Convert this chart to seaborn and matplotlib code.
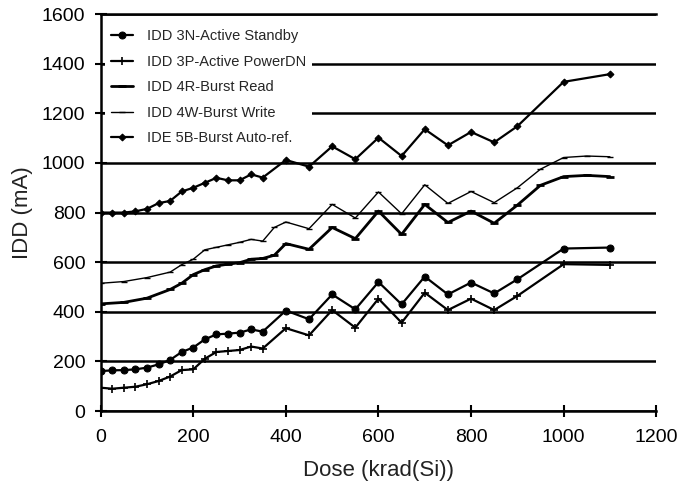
import pandas as pd
import seaborn as sns
import matplotlib.pyplot as plt

# data
dose_fine = [0, 25, 50, 75, 100, 125, 150, 175, 200, 225, 250, 275, 300, 325, 350,
             400, 450, 500, 550, 600, 650, 700, 750, 800, 850, 900, 1000, 1100]
dose_mid = [0, 50, 100, 150, 175, 200, 225, 250, 275, 300, 325, 350, 375,
            400, 450, 500, 550, 600, 650, 700, 750, 800, 850, 900, 950, 1000, 1050, 1100]

idd_3n = [161, 164, 165, 168, 175, 188, 206, 238, 256, 289, 309, 312, 316, 329, 320,
          405, 370, 470, 410, 520, 430, 542, 470, 518, 474, 531, 655, 659]
idd_3p = [94, 90, 94, 98, 108, 121, 139, 165, 168, 211, 238, 242, 246, 260, 252,
          334, 305, 407, 336, 453, 356, 477, 407, 453, 407, 464, 592, 589]
idd_4r = [432, 438, 455, 490, 515, 550, 570, 585, 592, 598, 612, 615, 628,
          675, 652, 740, 695, 806, 712, 833, 760, 806, 757, 830, 910, 945, 950, 945]
idd_4w = [515, 522, 538, 560, 590, 612, 650, 660, 670, 680, 692, 685, 740,
          762, 735, 833, 778, 883, 795, 912, 837, 885, 840, 900, 975, 1022, 1028, 1025]
ide_5b = [800, 800, 800, 805, 815, 838, 847, 885, 900, 920, 940, 930, 930, 954, 941,
          1012, 985, 1067, 1015, 1102, 1028, 1136, 1071, 1125, 1083, 1148, 1327, 1358]

labels = ["IDD 3N-Active Standby", "IDD 3P-Active PowerDN", "IDD 4R-Burst Read",
          "IDD 4W-Burst Write", "IDE 5B-Burst Auto-ref."]

sns.set_style("ticks")
plt.rcParams['font.family'] = ['Liberation Sans', 'DejaVu Sans']

fig = plt.figure(figsize=(6.85, 4.87), dpi=100)
ax = fig.add_axes([0.147, 0.156, 0.811, 0.815])

series = [
    (dose_fine, idd_3n, dict(marker='o', markersize=5, linewidth=1.6)),
    (dose_fine, idd_3p, dict(marker='+', markersize=6, markeredgewidth=1.2, linewidth=1.6)),
    (dose_mid, idd_4r, dict(marker='_', markersize=6, markeredgewidth=2, linewidth=2.0)),
    (dose_mid, idd_4w, dict(marker='_', markersize=5, markeredgewidth=1, linewidth=1.0)),
    (dose_fine, ide_5b, dict(marker='D', markersize=3.5, linewidth=1.6)),
]
for (x, y, style), lab in zip(series, labels):
    df = pd.DataFrame({'Dose': x, 'IDD': y})
    sns.lineplot(data=df, x='Dose', y='IDD', ax=ax, color='black', label=lab,
                 markeredgecolor='black', solid_joinstyle='round', **style)

ax.set_xlim(0, 1200)
ax.set_ylim(0, 1600)
ax.set_xticks(range(0, 1201, 200))
ax.set_yticks(range(0, 1601, 200))
ax.yaxis.grid(True, color='black', linewidth=1.8)
ax.set_axisbelow(True)

for s in ['left', 'bottom', 'top']:
    ax.spines[s].set_color('black')
    ax.spines[s].set_linewidth(1.8)
ax.spines['right'].set_visible(False)
ax.tick_params(axis='both', direction='inout', length=8, width=1.5,
               colors='black', labelsize=14, pad=7)
ax.tick_params(axis='x', pad=9)

ax.set_xlabel("Dose (krad(Si))", fontsize=16, color='#222222', labelpad=10)
ax.set_ylabel("IDD (mA)", fontsize=16, color='#222222', labelpad=6)

leg = ax.legend(loc='upper left', frameon=True, fontsize=10.5, handlelength=1.5,
                labelspacing=0.78, handletextpad=1.0, borderaxespad=0.3,
                bbox_to_anchor=(0.0, 0.987), facecolor='white', edgecolor='none',
                framealpha=1.0, fancybox=False)

plt.savefig("out.png", dpi=100)
